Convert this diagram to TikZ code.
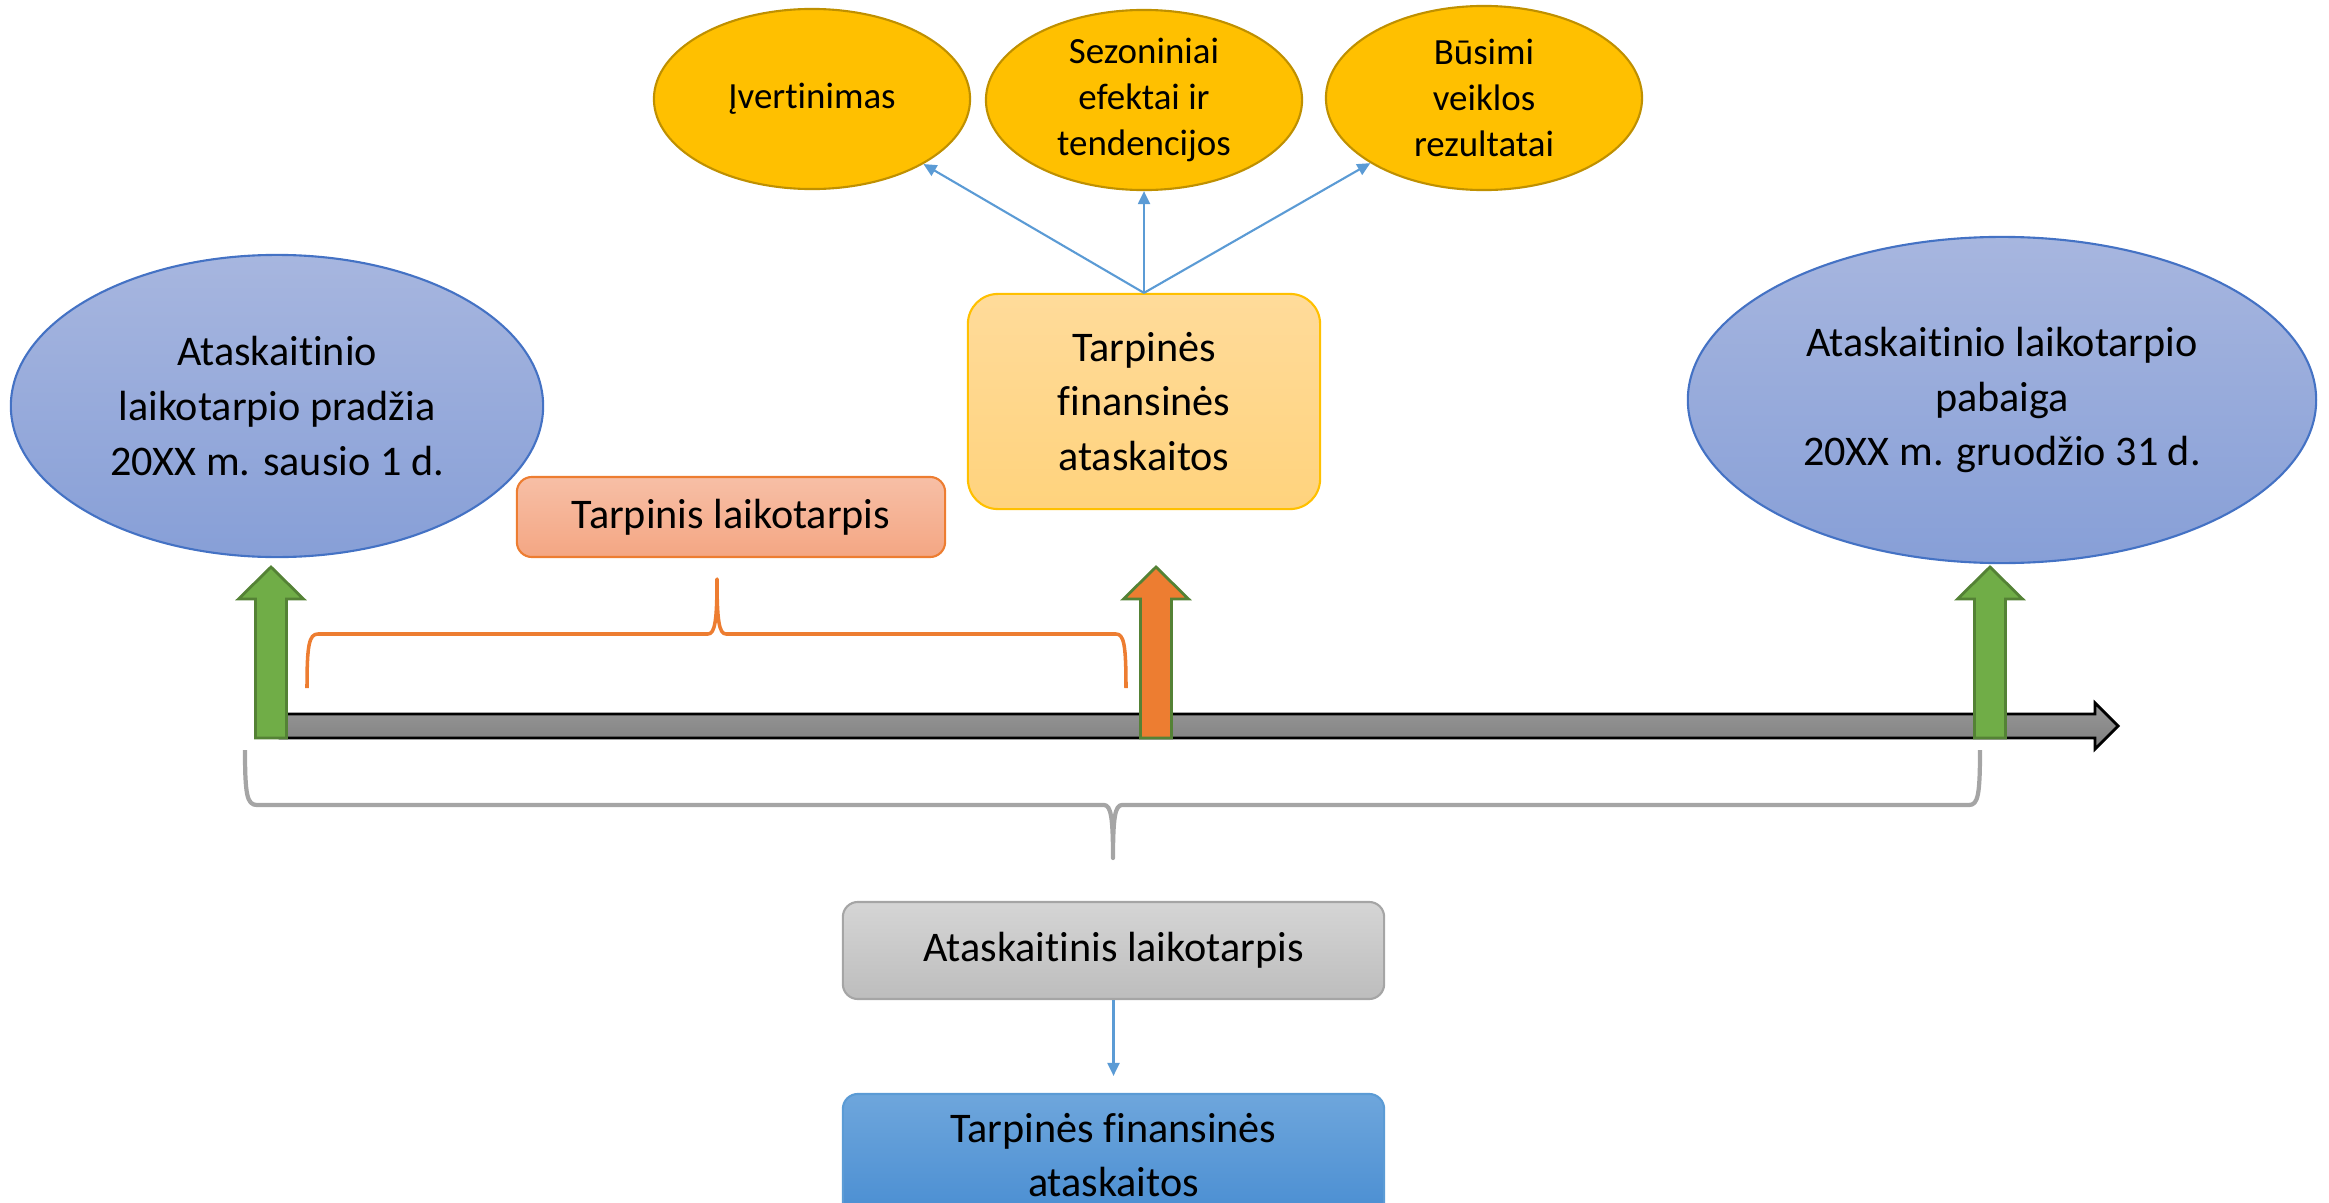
\documentclass[tikz,border=0pt]{standalone}
\usepackage{fontspec}
\setmainfont{Carlito}[Ligatures={NoCommon,NoContextual},RawFeature={-liga;-clig}]
\usetikzlibrary{shapes.geometric,arrows.meta}

\definecolor{edgeblue}{HTML}{4472C4}
\definecolor{ovaltop}{HTML}{A7B6DF}
\definecolor{ovalbot}{HTML}{879FD7}
\definecolor{gold}{HTML}{FFC000}
\definecolor{goldline}{HTML}{BF9000}
\definecolor{sandtop}{HTML}{FFDB9A}
\definecolor{sandbot}{HTML}{FFD37D}
\definecolor{peachtop}{HTML}{F7BFA6}
\definecolor{peachbot}{HTML}{F4A683}
\definecolor{flame}{HTML}{ED7D31}
\definecolor{greytop}{HTML}{D5D5D5}
\definecolor{greybot}{HTML}{BDBDBD}
\definecolor{greyline}{HTML}{A5A5A5}
\definecolor{skytop}{HTML}{6EA6DC}
\definecolor{skybot}{HTML}{4A8ED2}
\definecolor{linkblue}{HTML}{5B9BD5}
\definecolor{leaf}{HTML}{70AD47}
\definecolor{leafline}{HTML}{548235}
\definecolor{bartop}{HTML}{989898}
\definecolor{barbot}{HTML}{7F7F7F}

\begin{document}
\begin{tikzpicture}[x=0.01cm, y=-0.01cm, >={Triangle[length=0.13cm,width=0.12cm]},
    bigtxt/.style={font=\fontsize{12pt}{15.6pt}\selectfont, align=center},
    period/.style={ellipse, draw=edgeblue, line width=0.6pt, top color=ovaltop,
    bottom color=ovalbot, inner sep=0pt, bigtxt},
    factor/.style={ellipse, draw=goldline, fill=gold, line width=0.6pt, inner sep=0pt,
    font=\fontsize{10.5pt}{13pt}\selectfont, align=center, minimum width=3.16cm, minimum height=1.8cm},
    box/.style={rectangle, rounded corners=0.15cm, line width=0.6pt, inner sep=0pt, bigtxt},
    conn/.style={->, draw=linkblue, line width=0.6pt},
    blockup/.style={draw=leafline, line width=0.8pt},
    curly/.style={line width=1pt, line join=round}]
    \useasboundingbox (0,0) rectangle (2329,1203);
    \node[period, minimum width=5.32cm, minimum height=3.02cm] (start) at (277,406) {Ataskaitinio\\laikotarpio pradžia\\20XX m. sausio 1 d.};
    \node[period, minimum width=6.28cm, minimum height=3.26cm] (end) at (2002,400) {Ataskaitinio laikotarpio\\pabaiga\\20XX m. gruodžio 31 d.};
    \node[box, rounded corners=0.3cm, draw=gold, top color=sandtop, bottom color=sandbot,
    minimum width=3.52cm, minimum height=2.15cm] (interim) at (1144,401.5) {Tarpinės\\finansinės\\ataskaitos};
    \node[factor] (estim) at (812,99) {Įvertinimas};
    \node[factor] (season) at (1144,100) {Sezoniniai\\efektai ir\\tendencijos};
    \node[factor, minimum height=1.84cm] (future) at (1484,98) {Būsimi\\veiklos\\rezultatai};
    \node[box, draw=flame, top color=peachtop, bottom color=peachbot,
    minimum width=4.28cm, minimum height=0.8cm] (part) at (731,517) {Tarpinis laikotarpis};
    \node[box, draw=greyline, top color=greytop, bottom color=greybot,
    minimum width=5.41cm, minimum height=0.97cm] (whole) at (1113.5,950.5) {Ataskaitinis laikotarpis};
    \node[box, draw=linkblue, top color=skytop, bottom color=skybot,
    minimum width=5.41cm, minimum height=1.22cm] (result) at (1113.5,1155) {Tarpinės finansinės\\ataskaitos};
    \draw[conn] (interim.north) -- (estim);
    \draw[conn] (interim.north) -- (season);
    \draw[conn] (interim.north) -- (future);
    \draw[conn, shorten >=0.17cm] (whole) -- (result);
    \draw[line width=0.8pt, top color=bartop, bottom color=barbot] (280,714) -- (2095,714) -- (2095,703)
    -- (2118,726) -- (2095,749) -- (2095,738) -- (280,738) -- cycle;
    \draw[blockup, fill=leaf] (255.5,738) -- (255.5,599) -- (238.5,599) -- (271,567) -- (303.5,599) -- (286.5,599) -- (286.5,738) -- cycle;
    \draw[blockup, fill=flame] (1140.5,738) -- (1140.5,599) -- (1123.5,599) -- (1156,567) -- (1188.5,599) -- (1171.5,599) -- (1171.5,738) -- cycle;
    \draw[blockup, fill=leaf] (1974.5,738) -- (1974.5,599) -- (1957.5,599) -- (1990,567) -- (2022.5,599) -- (2005.5,599) -- (2005.5,738) -- cycle;
    \draw[curly, flame] (307,688) .. controls (307,645) and (309,634) .. (318,634) -- (708,634)
    .. controls (715,634) and (717,620) .. (717,579) .. controls (717,620) and (719,634) .. (726,634)
    -- (1116,634) .. controls (1124,634) and (1126,645) .. (1126,688);
    \draw[curly, greyline, line width=1.2pt] (245,750) .. controls (245,795) and (247,805) .. (257,805) -- (1104,805)
    .. controls (1111,805) and (1113,818) .. (1113,858) .. controls (1113,818) and (1115,805) .. (1122,805)
    -- (1969,805) .. controls (1978,805) and (1980,795) .. (1980,750);
\end{tikzpicture}
\end{document}
